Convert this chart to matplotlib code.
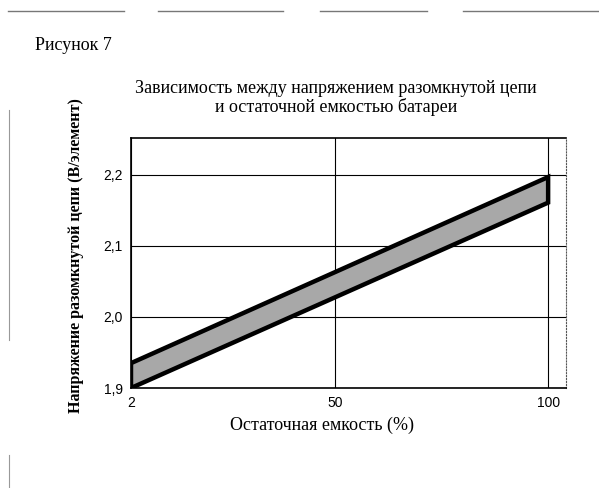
import matplotlib.pyplot as plt
from matplotlib.lines import Line2D

# данные: полоса напряжения разомкнутой цепи
емкость = [2, 100]
нижняя = [1.900, 2.161]
верхняя = [1.935, 2.197]

x_ticks = [2, 50, 100]
y_ticks = [1.9, 2.0, 2.1, 2.2]
y_labels = ["1,9", "2,0", "2,1", "2,2"]

serif = ["Liberation Serif", "DejaVu Serif"]
narrow = ["Liberation Sans Narrow", "Liberation Sans", "DejaVu Sans"]

fig = plt.figure(figsize=(5.99, 4.88), dpi=100)
ax = fig.add_axes([131 / 599, 1 - 388 / 488, 435 / 599, 250 / 488])

ax.fill_between(емкость, нижняя, верхняя, facecolor="#a8a8a8", edgecolor="none", zorder=3)
ax.fill(емкость + емкость[::-1], нижняя + верхняя[::-1], facecolor="none",
        edgecolor="black", linewidth=3.2, joinstyle="miter", zorder=4)

ax.set_xlim(2, 104.2)
ax.set_ylim(1.9, 2.252)
ax.set_xticks(x_ticks)
ax.set_xticklabels([str(t) for t in x_ticks], family=narrow, fontsize=10)
ax.set_yticks(y_ticks)
ax.set_yticklabels(y_labels, family=narrow, fontsize=10)
ax.tick_params(length=0, pad=6)
ax.grid(True, color="black", linewidth=0.8)
ax.set_axisbelow(True)

for s in ["left", "bottom", "top"]:
    ax.spines[s].set_linewidth(1.2)
ax.spines["right"].set_linestyle(":")
ax.spines["right"].set_color("#555555")

ax.set_xlabel("Остаточная емкость (%)", family=serif, fontsize=13)
ax.xaxis.set_label_coords(0.44, -0.115)
ax.set_ylabel("Напряжение разомкнутой цепи (В/элемент)", family=serif,
              fontsize=11.5, fontweight="bold")
ax.yaxis.set_label_coords(-0.107, 0.53)

fig.text(336 / 599, 1 - 98 / 488,
         "Зависимость между напряжением разомкнутой цепи\nи остаточной емкостью батареи",
         family=serif, fontsize=13, ha="center", va="center", linespacing=1.05)
fig.text(35 / 599, 1 - 45 / 488, "Рисунок 7", family=serif, fontsize=13,
         ha="left", va="center")

# рамка страницы
for x0, x1 in [(8, 124), (158, 283), (320, 427), (463, 599)]:
    fig.add_artist(Line2D([x0 / 599, x1 / 599], [1 - 11 / 488] * 2,
                          color="#777777", linewidth=1))
for y0, y1 in [(110, 340), (455, 488)]:
    fig.add_artist(Line2D([9 / 599] * 2, [1 - y0 / 488, 1 - y1 / 488],
                          color="#999999", linewidth=0.8))

fig.savefig("out.png", dpi=100)
